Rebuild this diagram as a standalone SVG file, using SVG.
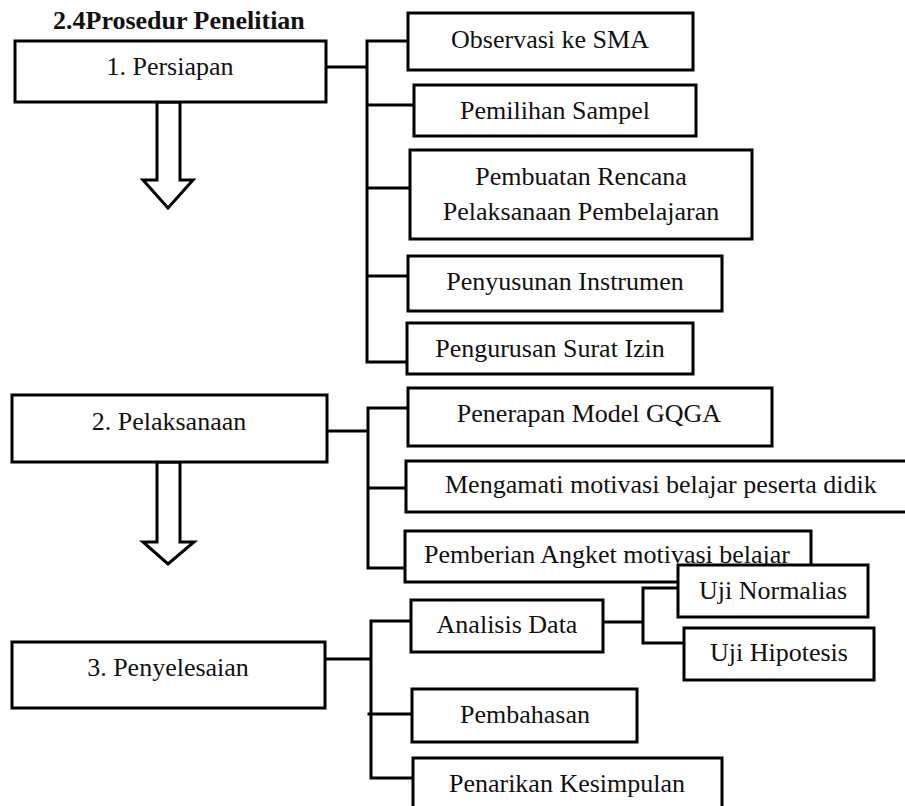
<svg xmlns="http://www.w3.org/2000/svg" width="905" height="806" viewBox="0 0 905 806">
<style>
.box{fill:#fff;stroke:#000;stroke-width:3}
.arrow{fill:#fff;stroke:#000;stroke-width:3;stroke-linejoin:miter}
.ln{fill:none;stroke:#000;stroke-width:3;stroke-linecap:square}
text{font-family:"Liberation Serif","Times New Roman",serif;font-size:26px;fill:#111}
.c{text-anchor:middle}
.title{font-weight:bold}
</style>
<rect width="905" height="806" fill="#fff"/>
<text class="title" x="53" y="29" font-size="25">2.4Prosedur Penelitian</text>
<g id="connectors">
<path class="ln" d="M326 67H367M367 41V362M367 41H408M367 105H414M367 188H410M367 276H408M367 362H407"/>
<path class="ln" d="M327 431H368M368 408V568M368 408H408M368 488H406M368 568H405"/>
<path class="ln" d="M325 659H371M371 621V778M371 621H411M369 714H412M371 778H413"/>
<path class="ln" d="M603 622H643M643 588V643M643 588H678M643 643H684"/>
</g>
<g id="arrow1"><polygon class="arrow" points="157,102 180,102 180,180 193,180 168,208 143,180 157,180"/></g>
<g id="arrow2"><polygon class="arrow" points="157,462 180,462 180,542 194,542 168,564 143,542 157,542"/></g>
<g id="persiapan"><rect class="box" x="15" y="41" width="311" height="61"/><text class="c" x="170" y="75">1. Persiapan</text></g>
<g id="observasi"><rect class="box" x="408" y="13" width="285" height="57"/><text class="c" x="550" y="48">Observasi ke SMA</text></g>
<g id="pemilihan"><rect class="box" x="414" y="85" width="282" height="51"/><text class="c" x="555" y="119">Pemilihan Sampel</text></g>
<g id="pembuatan"><rect class="box" x="410" y="150" width="342" height="89"/><text class="c" x="581" y="185">Pembuatan Rencana</text><text class="c" x="581" y="220">Pelaksanaan Pembelajaran</text></g>
<g id="penyusunan"><rect class="box" x="408" y="256" width="314" height="55"/><text class="c" x="565" y="290">Penyusunan Instrumen</text></g>
<g id="pengurusan"><rect class="box" x="407" y="323" width="286" height="51"/><text class="c" x="550" y="357">Pengurusan Surat Izin</text></g>
<g id="pelaksanaan"><rect class="box" x="12" y="395" width="315" height="67"/><text class="c" x="169" y="430">2. Pelaksanaan</text></g>
<g id="penerapan"><rect class="box" x="408" y="388" width="364" height="58"/><text class="c" x="589" y="422">Penerapan Model GQGA</text></g>
<g id="mengamati"><rect class="box" x="406" y="461" width="510" height="51"/><text x="445" y="493">Mengamati motivasi belajar peserta didik</text></g>
<g id="pemberian"><rect class="box" x="405" y="531" width="406" height="51"/><text class="c" x="607" y="563">Pemberian Angket motivasi belajar</text></g>
<g id="normalias"><rect class="box" x="678" y="565" width="190" height="52"/><text class="c" x="773" y="599">Uji Normalias</text></g>
<g id="hipotesis"><rect class="box" x="684" y="628" width="190" height="52"/><text class="c" x="779" y="661">Uji Hipotesis</text></g>
<g id="analisis"><rect class="box" x="411" y="600" width="192" height="52"/><text class="c" x="507" y="633">Analisis Data</text></g>
<g id="penyelesaian"><rect class="box" x="12" y="642" width="313" height="66"/><text class="c" x="168" y="676">3. Penyelesaian</text></g>
<g id="pembahasan"><rect class="box" x="412" y="689" width="225" height="53"/><text class="c" x="525" y="723">Pembahasan</text></g>
<g id="penarikan"><rect class="box" x="413" y="758" width="309" height="72"/><text class="c" x="567" y="792">Penarikan Kesimpulan</text></g>
</svg>
